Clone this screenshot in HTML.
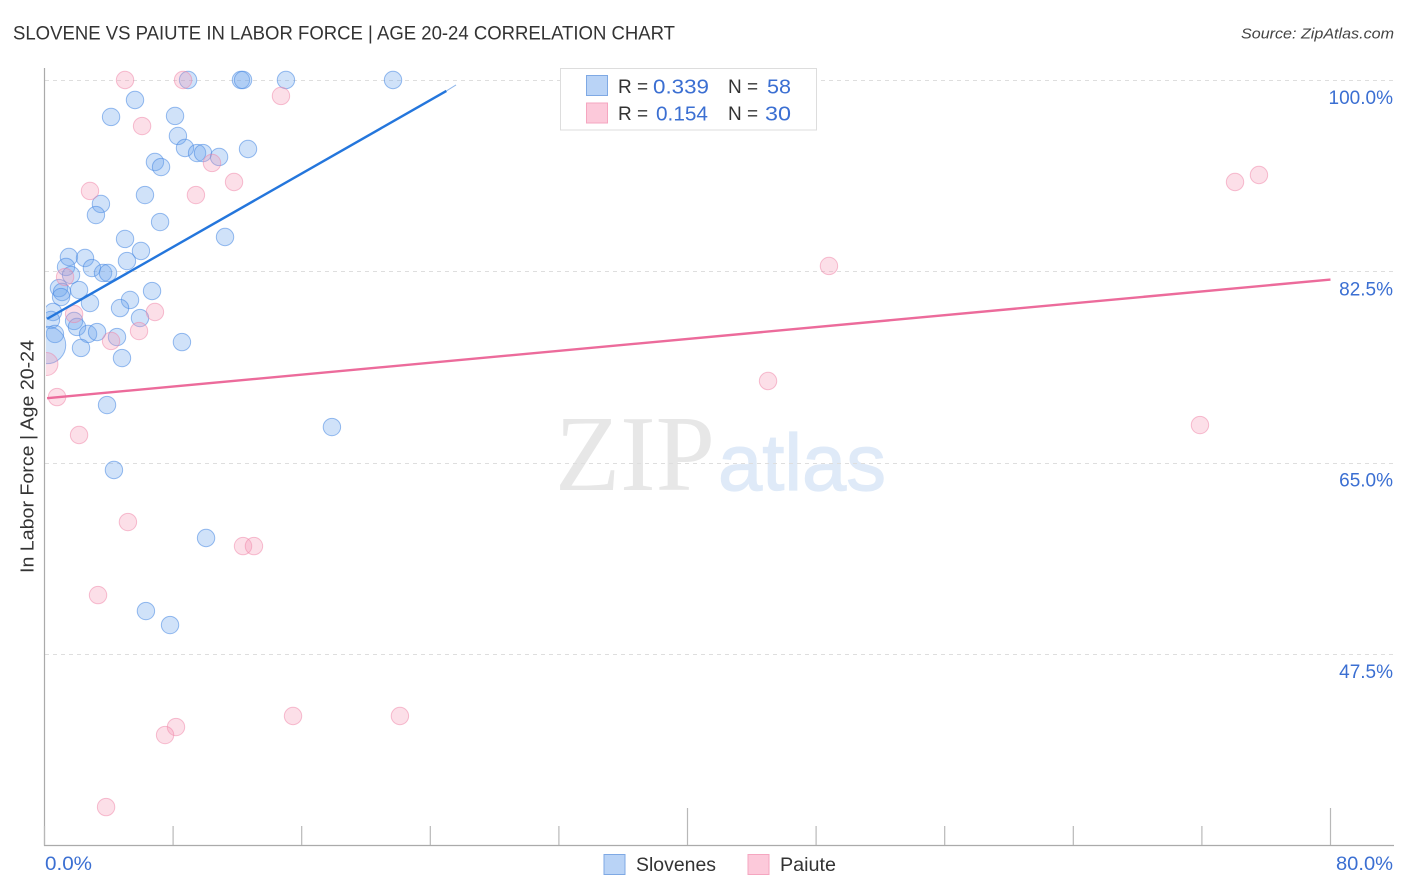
<!DOCTYPE html>
<html lang="en">
<head>
<meta charset="utf-8">
<title>Slovene vs Paiute in Labor Force | Age 20-24 Correlation Chart</title>
<style>
html,body{margin:0;padding:0;background:#fff;width:1406px;height:892px;overflow:hidden}
svg{display:block;font-family:"Liberation Sans",sans-serif}
</style>
</head>
<body>
<svg id="chart" xmlns="http://www.w3.org/2000/svg" width="1406" height="892" viewBox="0 0 1406 892">
  <defs>
    <clipPath id="plot-clip"><rect x="46" y="60" width="1350" height="785"/></clipPath>
  </defs>
  <rect x="0" y="0" width="1406" height="892" fill="#ffffff"/>
  <text x="13" y="39.5" font-size="19" fill="#333333" textLength="662" lengthAdjust="spacingAndGlyphs">SLOVENE VS PAIUTE IN LABOR FORCE | AGE 20-24 CORRELATION CHART</text>
  <text x="1241" y="38.5" font-size="15" font-style="italic" fill="#444444" textLength="153" lengthAdjust="spacingAndGlyphs">Source: ZipAtlas.com</text>

  <g>
    <text x="555" y="490" font-family="'Liberation Serif',serif" font-size="108" fill="#e7e7e7" textLength="160" lengthAdjust="spacingAndGlyphs">ZIP</text>
    <text x="718" y="490" font-family="'Liberation Sans',sans-serif" font-size="80" fill="#dfeaf8" stroke="#dfeaf8" stroke-width="1.2" textLength="168" lengthAdjust="spacingAndGlyphs">atlas</text>
  </g>

  <g id="grid"></g>
  <g id="axes">
    <line x1="44.5" y1="68" x2="44.5" y2="846" stroke="#aaaaaa" stroke-width="1.2"/>
    <line x1="44" y1="845.5" x2="1394" y2="845.5" stroke="#aaaaaa" stroke-width="1.2"/>
  </g>
  <g id="xticks"></g>
  <g id="ylabels"></g>
  <text x="45" y="870" font-size="19" fill="#3b6fd2" textLength="47" lengthAdjust="spacingAndGlyphs">0.0%</text>
  <text x="1336" y="870" font-size="19" fill="#3b6fd2" textLength="57" lengthAdjust="spacingAndGlyphs">80.0%</text>
  <text transform="translate(33.5,573) rotate(-90)" font-size="18.5" fill="#333333" textLength="233" lengthAdjust="spacingAndGlyphs">In Labor Force | Age 20-24</text>

  <g id="points" clip-path="url(#plot-clip)"></g>
  <g id="trends"></g>

  <g>
    <rect x="560.5" y="68.5" width="256" height="61.5" fill="#ffffff" stroke="#dddddd" stroke-width="1"/>
    <rect x="586.5" y="75.5" width="21" height="20" fill="#b9d3f6" stroke="#7fa9e4" stroke-width="1"/>
    <text x="618" y="93" font-size="19" fill="#333333">R =</text>
    <text x="653" y="93.5" font-size="20.5" fill="#3b6fd2" textLength="56" lengthAdjust="spacingAndGlyphs">0.339</text>
    <text x="728" y="93" font-size="19" fill="#333333">N =</text>
    <text x="767" y="93.5" font-size="20.5" fill="#3b6fd2" textLength="24" lengthAdjust="spacingAndGlyphs">58</text>
    <rect x="586.5" y="103" width="21" height="20" fill="#fcc9da" stroke="#f5a6c0" stroke-width="1"/>
    <text x="618" y="120" font-size="19" fill="#333333">R =</text>
    <text x="656" y="120.5" font-size="20.5" fill="#3b6fd2" textLength="52" lengthAdjust="spacingAndGlyphs">0.154</text>
    <text x="728" y="120" font-size="19" fill="#333333">N =</text>
    <text x="765" y="120.5" font-size="20.5" fill="#3b6fd2" textLength="26" lengthAdjust="spacingAndGlyphs">30</text>
  </g>

  <g>
    <rect x="604" y="854.5" width="21" height="20" fill="#b9d3f6" stroke="#7fa9e4" stroke-width="1"/>
    <text x="636" y="871" font-size="19.5" fill="#333333" textLength="80" lengthAdjust="spacingAndGlyphs">Slovenes</text>
    <rect x="748" y="854.5" width="21" height="20" fill="#fcc9da" stroke="#f5a6c0" stroke-width="1"/>
    <text x="780" y="871" font-size="19.5" fill="#333333" textLength="56" lengthAdjust="spacingAndGlyphs">Paiute</text>
  </g>
</svg>
<script>
const yTickValues = [100, 82.5, 65, 47.5];
const yTickLabels = ["100.0%", "82.5%", "65.0%", "47.5%"];
const xTickValues = [0, 8, 16, 24, 32, 40, 48, 56, 64, 72, 80];
const xMajorTicks = [40, 80];

const slovenesX = [8.93,12.22,12.35,15.02,21.68,5.63,4.14,8.12,8.30,8.74,9.49,9.86,10.86,12.66,6.87,7.25,6.25,3.51,3.20,7.19,11.23,5.01,6.00,5.13,1.52,2.52,1.34,1.65,2.95,3.64,3.95,0.90,2.15,1.09,1.03,2.83,6.69,5.32,4.70,5.94,0.53,0.40,1.84,2.02,2.71,3.27,4.51,8.55,2.27,4.82,0.65,0.16,3.89,17.88,4.32,10.05,6.31,7.81];
const slovenesY = [100,100,100,100,100,98.17,96.62,96.71,94.88,93.78,93.32,93.32,92.96,93.69,92.50,92.04,89.48,88.66,87.65,87.01,85.64,85.46,84.36,83.44,83.81,83.72,82.90,82.16,82.80,82.35,82.35,80.97,80.79,80.61,80.15,79.60,80.70,79.88,79.14,78.23,78.78,78.05,77.96,77.41,76.77,76.95,76.49,76.03,75.49,74.57,76.77,75.76,70.27,68.26,64.33,58.11,51.43,50.15];
const slovenesWeight = [1,1,1,1,1,1,1,1,1,1,1,1,1,1,1,1,1,1,1,1,1,1,1,1,1,1,1,1,1,1,1,1,1,1,1,1,1,1,1,1,1,1,1,1,1,1,1,1,1,1,1,4.6,1,1,1,1,1,1];

const paiuteX = [5.01,8.62,14.71,6.07,2.83,9.42,10.42,11.79,1.28,1.84,6.87,5.88,4.14,0.12,0.78,2.15,5.19,12.35,13.03,3.33,15.46,22.11,8.18,7.50,3.83,48.80,45.01,71.88,74.06,75.55];
const paiuteY = [100,100,98.54,95.79,89.85,89.48,92.41,90.67,81.98,78.60,78.78,77.04,76.13,74.02,71.00,67.53,59.57,57.37,57.37,52.89,41.83,41.83,40.82,40.09,33.50,82.99,72.47,68.44,90.67,91.31];
const paiuteWeight = [1,1,1,1,1,1,1,1,1,1,1,1,1,1.75,1,1,1,1,1,1,1,1,1,1,1,1,1,1,1,1];

const slovenesTrendX = [0.16, 25.0];
const slovenesTrendY = [78.15, 99.0];
const slovenesTrendTailX = [25.0, 25.6];
const slovenesTrendTailY = [99.0, 99.55];
const paiuteTrendX = [0.16, 80];
const paiuteTrendY = [70.9, 81.75];

const NS = "http://www.w3.org/2000/svg";
const xScale = v => 44.5 + v * (1330.5 - 44.5) / 80;
const yScale = v => 80 + (100 - v) * (654 - 80) / 52.5;
const radius = w => 8.7 * Math.sqrt(w);

function make(tag, attrs, parent) {
  const el = document.createElementNS(NS, tag);
  for (const k in attrs) el.setAttribute(k, attrs[k]);
  parent.appendChild(el);
  return el;
}

const grid = document.getElementById("grid");
const ylabels = document.getElementById("ylabels");
yTickValues.forEach((v, i) => {
  const py = Math.round(yScale(v)) + 0.5;
  const line = make("line", {x1: 45, x2: 1394, y1: py, y2: py, stroke: "#dedede", "stroke-width": 1, "stroke-dasharray": "4 4"}, grid);
  
  
  const label = make("text", {x: 1393, y: yScale(v) + 24, "font-size": 19, fill: "#3b6fd2", "text-anchor": "end"}, ylabels);
  label.textContent = yTickLabels[i];
  
  
});

const xticks = document.getElementById("xticks");
xTickValues.forEach(v => {
  const px = xScale(v);
  const top = xMajorTicks.includes(v) ? 808 : 826;
  const tick = make("line", {x1: px, x2: px, y1: top, y2: 845, stroke: "#b8b8b8", "stroke-width": 1.2}, xticks);
  
  
});

const points = document.getElementById("points");
slovenesX.forEach((v, i) => {
  const c = make("circle", {cx: xScale(v), cy: yScale(slovenesY[i]), r: radius(slovenesWeight[i]), fill: "rgba(110,165,235,0.32)", stroke: "rgba(70,135,225,0.55)", "stroke-width": 1}, points);
  
  
});
paiuteX.forEach((v, i) => {
  const c = make("circle", {cx: xScale(v), cy: yScale(paiuteY[i]), r: radius(paiuteWeight[i]), fill: "rgba(245,150,180,0.3)", stroke: "rgba(240,130,165,0.5)", "stroke-width": 1}, points);
  
  
});

const trends = document.getElementById("trends");
const blueLine = make("line", {x1: xScale(slovenesTrendX[0]), y1: yScale(slovenesTrendY[0]), x2: xScale(slovenesTrendX[1]), y2: yScale(slovenesTrendY[1]), stroke: "#2476dc", "stroke-width": 2.4}, trends);


const blueTail = make("line", {x1: xScale(slovenesTrendTailX[0]), y1: yScale(slovenesTrendTailY[0]), x2: xScale(slovenesTrendTailX[1]), y2: yScale(slovenesTrendTailY[1]), stroke: "#8fb6ea", "stroke-width": 1}, trends);


const pinkLine = make("line", {x1: xScale(paiuteTrendX[0]), y1: yScale(paiuteTrendY[0]), x2: xScale(paiuteTrendX[1]), y2: yScale(paiuteTrendY[1]), stroke: "#ec6b9b", "stroke-width": 2.4}, trends);


</script>
</body>
</html>
